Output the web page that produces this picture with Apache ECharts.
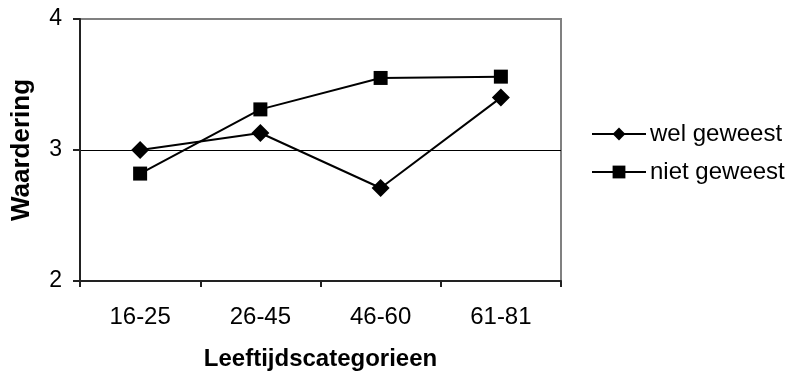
<!DOCTYPE html>
<html>
<head>
<meta charset="utf-8">
<script src="https://cdn.jsdelivr.net/npm/echarts@6/dist/echarts.min.js"></script>
<style>html,body{margin:0;padding:0;background:#fff;}#c{width:792px;height:376px;}</style>
</head>
<body>
<div id="c"></div>
<script>
const categories = ['16-25', '26-45', '46-60', '61-81'];
const welGeweest = [3.00, 3.13, 2.71, 3.40];
const nietGeweest = [2.82, 3.31, 3.55, 3.56];
const yTicks = [2, 3, 4];

const chart = echarts.init(document.getElementById('c'), null, {renderer: 'canvas'});
const font = 'Liberation Sans, Arial, sans-serif';
chart.setOption({
  animation: false,
  backgroundColor: '#fff',
  textStyle: {fontFamily: font},
  grid: {left: 80, top: 19, width: 481, height: 262, containLabel: false, outerBoundsMode: 'none',
         show: true, borderColor: '#808080', borderWidth: 2, backgroundColor: 'transparent'},
  legend: {
    orient: 'vertical', left: 586, top: 117, itemWidth: 54, itemHeight: 16, itemGap: 14,
    textStyle: {fontSize: 24, color: '#000', fontFamily: font, padding: [0, 0, 0, -1]},
    data: ['wel geweest', 'niet geweest']
  },
  xAxis: {
    type: 'category', data: categories, boundaryGap: true,
    name: 'Leeftijdscategorieen', nameLocation: 'middle', nameGap: 66,
    nameTextStyle: {fontSize: 24, fontWeight: 'bold', color: '#000', fontFamily: font},
    axisLine: {lineStyle: {color: '#222', width: 2}},
    axisTick: {show: true, length: 6, lineStyle: {color: '#222', width: 2}},
    axisLabel: {fontSize: 24, color: '#000', margin: 24, fontFamily: font},
    splitLine: {show: false}
  },
  yAxis: {
    type: 'value', min: yTicks[0], max: yTicks[yTicks.length - 1], interval: 1,
    name: 'Waardering', nameLocation: 'middle', nameGap: 45, nameRotate: 90,
    nameTextStyle: {fontSize: 26, fontWeight: 'bold', color: '#000', fontFamily: font},
    axisLine: {show: true, lineStyle: {color: '#222', width: 2}},
    axisTick: {show: true, length: 7, lineStyle: {color: '#222', width: 2}},
    axisLabel: {fontSize: 23, color: '#000', margin: 18, fontFamily: font},
    splitLine: {show: true, lineStyle: {color: ['#222', '#000', '#808080'], width: 1}}
  },
  series: [
    {
      name: 'wel geweest', type: 'line', data: welGeweest,
      symbol: 'diamond', symbolSize: 18,
      lineStyle: {color: '#000', width: 2}, itemStyle: {color: '#000'}
    },
    {
      name: 'niet geweest', type: 'line', data: nietGeweest,
      symbol: 'rect', symbolSize: 14,
      lineStyle: {color: '#000', width: 2}, itemStyle: {color: '#000'}
    }
  ]
});
</script>
</body>
</html>
